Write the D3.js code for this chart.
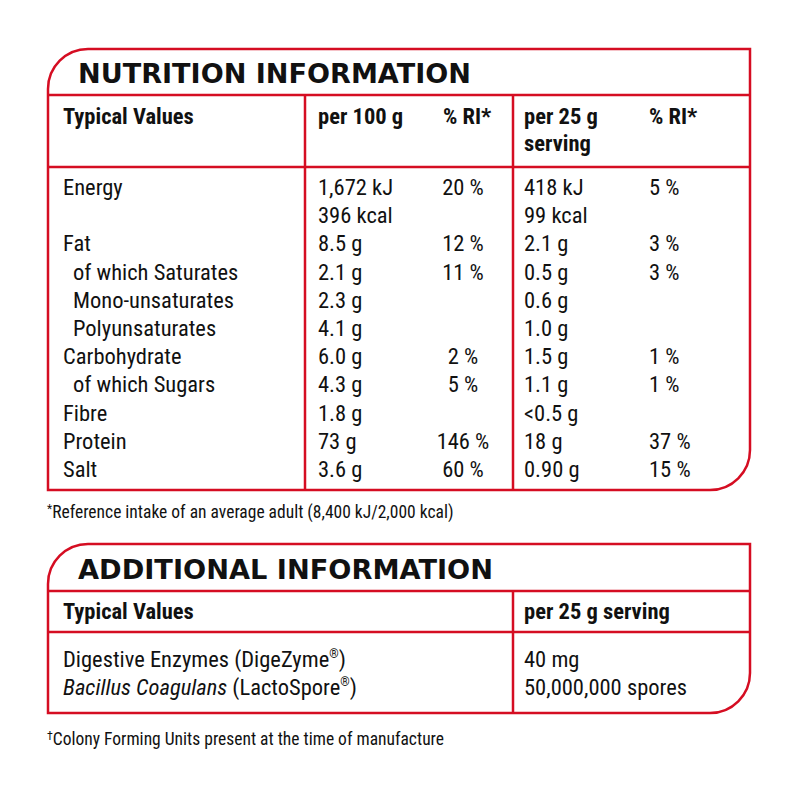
<!DOCTYPE html>
<html>
<head>
<meta charset="utf-8">
<script src="https://cdn.jsdelivr.net/npm/d3@7"></script>
<style>
  body { margin: 0; background: #fff; }
  text { fill: #111; }
  .title { font-family: "DejaVu Sans", sans-serif; font-weight: bold; font-size: 27px; }
  .body { font-family: "Roboto Condensed", Roboto, sans-serif; font-size: 22.5px; }
  .head { font-weight: bold; font-size: 22.5px; }
  .note { font-family: "Roboto Condensed", Roboto, sans-serif; font-size: 17.5px; }
</style>
</head>
<body>
<div id="wrapper"></div>
<script>
// nutrition table data
const nutrients = ["Energy", "", "Fat", "of which Saturates", "Mono-unsaturates", "Polyunsaturates",
  "Carbohydrate", "of which Sugars", "Fibre", "Protein", "Salt"]
const indented = [false, false, false, true, true, true, false, true, false, false, false]
const per100 = ["1,672 kJ", "396 kcal", "8.5 g", "2.1 g", "2.3 g", "4.1 g", "6.0 g", "4.3 g", "1.8 g", "73 g", "3.6 g"]
const ri100 = ["20 %", "", "12 %", "11 %", "", "", "2 %", "5 %", "", "146 %", "60 %"]
const per25 = ["418 kJ", "99 kcal", "2.1 g", "0.5 g", "0.6 g", "1.0 g", "1.5 g", "1.1 g", "<0.5 g", "18 g", "0.90 g"]
const ri25 = ["5 %", "", "3 %", "3 %", "", "", "1 %", "1 %", "", "37 %", "15 %"]
const headers = [["Typical Values"], ["per 100 g"], ["% RI*"], ["per 25 g", "serving"], ["% RI*"]]

// additional information data
const addHeaders = ["Typical Values", "per 25 g serving"]
const addItalic = ["", "Bacillus Coagulans"]
const addNames = ["Digestive Enzymes (DigeZyme", " (LactoSpore"]
const addValues = ["40 mg", "50,000,000 spores"]

const red = "#d50d22"
const width = 800, height = 800

const svg = d3.select("#wrapper").append("svg")
  .attr("width", width)
  .attr("height", height)

function box(x0, y0, x1, y1, r) {
  const p = d3.path()
  p.moveTo(x0, y0 + r)
  p.arcTo(x0, y0, x0 + r, y0, r)
  p.lineTo(x1, y0)
  p.lineTo(x1, y1 - r)
  p.arcTo(x1, y1, x1 - r, y1, r)
  p.lineTo(x0, y1)
  p.closePath()
  svg.append("path")
    .attr("d", p.toString())
    .attr("fill", "none")
    .attr("stroke", red)
    .attr("stroke-width", 2.5)
}

function line(x1, y1, x2, y2) {
  svg.append("line")
    .attr("x1", x1).attr("y1", y1).attr("x2", x2).attr("y2", y2)
    .attr("stroke", red).attr("stroke-width", 2.5)
}

// ---------- nutrition table ----------
const left = 48, right = 750
box(left, 49, right, 490, 40)
line(left, 95, right, 95)
line(left, 167, right, 167)
line(305, 95, 305, 490)
line(513, 95, 513, 490)

svg.append("text").attr("class", "title")
  .attr("x", 78).attr("y", 83)
  .attr("textLength", 393).attr("lengthAdjust", "spacingAndGlyphs")
  .text("NUTRITION INFORMATION")

const colX = d3.scaleOrdinal().domain([0, 1, 2, 3, 4]).range([63, 318, 443, 524, 649])

// header rows
const headerY = d3.scaleLinear().domain([0, 1]).range([124, 151])
headers.forEach((lines, c) => {
  lines.forEach((t, i) => {
    svg.append("text").attr("class", "body head")
      .attr("x", colX(c)).attr("y", headerY(i))
      .text(t)
  })
})

const rowY = d3.scaleLinear().domain([0, 1]).range([195, 223.2])

const g = svg.append("g").attr("class", "body")
g.selectAll("text.name").data(nutrients).join("text")
  .attr("class", "name")
  .attr("x", (d, i) => colX(0) + (indented[i] ? 10 : 0))
  .attr("y", (d, i) => rowY(i))
  .text(d => d)

g.selectAll("text.p100").data(per100).join("text")
  .attr("class", "p100")
  .attr("x", colX(1)).attr("y", (d, i) => rowY(i))
  .text(d => d)

g.selectAll("text.r100").data(ri100).join("text")
  .attr("class", "r100")
  .attr("x", colX(2) + 20).attr("text-anchor", "middle")
  .attr("y", (d, i) => rowY(i))
  .text(d => d)

g.selectAll("text.p25").data(per25).join("text")
  .attr("class", "p25")
  .attr("x", colX(3)).attr("y", (d, i) => rowY(i))
  .text(d => d)

g.selectAll("text.r25").data(ri25).join("text")
  .attr("class", "r25")
  .attr("x", colX(4)).attr("y", (d, i) => rowY(i))
  .text(d => d)

const n1 = svg.append("text").attr("class", "note").attr("x", 47).attr("y", 518)
n1.append("tspan").attr("font-size", 12).attr("dy", -5).text("*")
n1.append("tspan").attr("dy", 5).text("Reference intake of an average adult (8,400 kJ/2,000 kcal)")

// ---------- additional information ----------
box(left, 544, right, 713, 40)
line(left, 591, right, 591)
line(left, 632, right, 632)
line(513, 591, 513, 713)

svg.append("text").attr("class", "title")
  .attr("x", 78).attr("y", 579)
  .attr("textLength", 415).attr("lengthAdjust", "spacingAndGlyphs")
  .text("ADDITIONAL INFORMATION")

addHeaders.forEach((t, i) => {
  svg.append("text").attr("class", "body head")
    .attr("x", i === 0 ? colX(0) : colX(3)).attr("y", 619)
    .text(t)
})

const addY = d3.scaleLinear().domain([0, 1]).range([667, 695])
addNames.forEach((t, i) => {
  const tx = svg.append("text").attr("class", "body").attr("x", colX(0)).attr("y", addY(i))
  if (addItalic[i]) tx.append("tspan").attr("font-style", "italic").text(addItalic[i])
  tx.append("tspan").text(t)
  tx.append("tspan").attr("font-size", 12).attr("dy", -9).text("®")
  tx.append("tspan").attr("dy", 9).text(")")
})
addValues.forEach((t, i) => {
  svg.append("text").attr("class", "body")
    .attr("x", colX(3)).attr("y", addY(i))
    .text(t)
})

const n2 = svg.append("text").attr("class", "note").attr("x", 47).attr("y", 745)
n2.append("tspan").attr("font-size", 12).attr("dy", -5).text("†")
n2.append("tspan").attr("dy", 5).text("Colony Forming Units present at the time of manufacture")
</script>
</body>
</html>
